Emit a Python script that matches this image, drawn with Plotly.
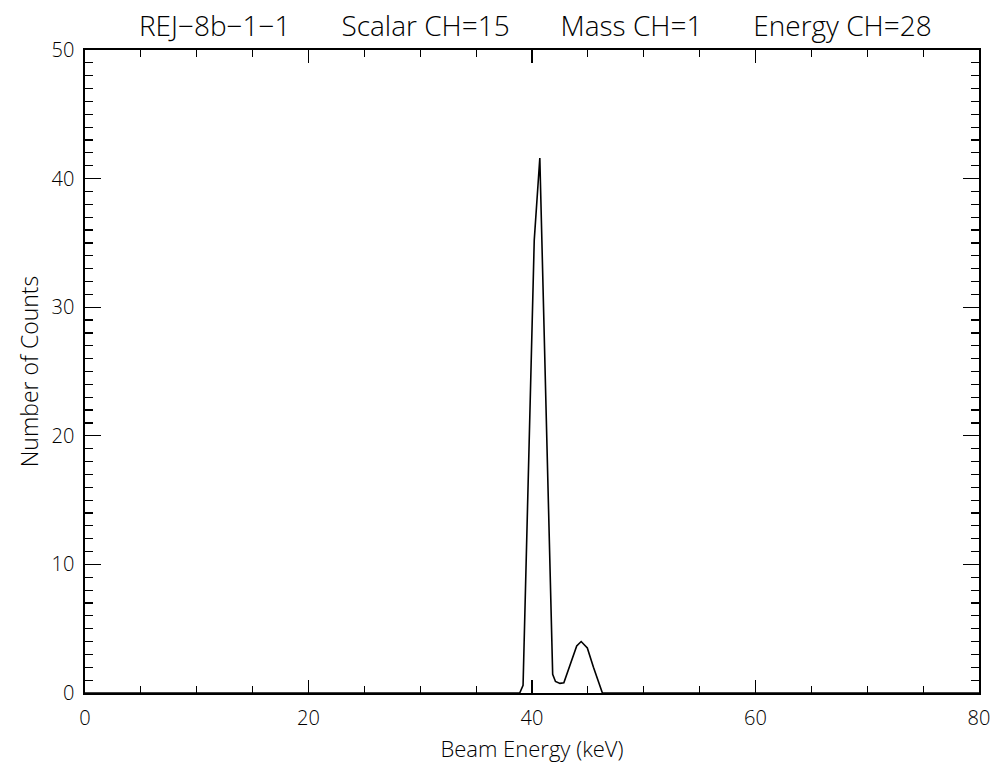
import plotly.graph_objects as go

# Data
energy_kev = [0, 38.9, 39.2, 40.2, 40.7, 41.85, 42.1, 42.5, 42.85, 43.5, 44.0, 44.4, 44.95, 45.5, 45.95, 46.3, 80]
counts = [0, 0, 0.6, 35.2, 41.6, 1.45, 0.9, 0.75, 0.8, 2.5, 3.65, 4.0, 3.5, 2.0, 0.8, 0, 0]

x_ticks = [0, 20, 40, 60, 80]
y_ticks = [0, 10, 20, 30, 40, 50]

GAP = "\u00a0" * 7
title_text = "REJ\u22128b\u22121\u22121" + GAP + "Scalar CH=15" + GAP + "Mass CH=1" + GAP + "Energy CH=28"

FONT = "Open Sans"
W = 300

fig = go.Figure()
fig.add_trace(go.Scatter(
    x=energy_kev, y=counts, mode="lines",
    line=dict(color="black", width=1.6),
    showlegend=False, hoverinfo="skip",
))

axis_common = dict(
    showgrid=False, zeroline=False, automargin=False,
    showline=True, linecolor="black", linewidth=1.6,
    mirror="allticks", ticks="inside", tickcolor="black", tickwidth=1.3,
    tickfont=dict(family=FONT, size=20, color="black", weight=W),
    ticklabeloverflow="allow",
)

fig.update_xaxes(
    range=[0, 80], tickvals=x_ticks, ticklen=13, ticklabelstandoff=6,
    minor=dict(dtick=5, ticks="inside", ticklen=7, tickcolor="black", tickwidth=1.2),
    title=dict(text="Beam Energy (keV)", font=dict(family=FONT, size=22, color="black", weight=W), standoff=16),
    **axis_common,
)
fig.update_yaxes(
    range=[0, 50], tickvals=y_ticks, ticklen=16, ticklabelstandoff=5,
    minor=dict(dtick=1, ticks="inside", ticklen=8, tickcolor="black", tickwidth=1.2),
    title=dict(text="Number of Counts", font=dict(family=FONT, size=23, color="black", weight=W), standoff=6),
    **axis_common,
)

fig.update_layout(
    width=995, height=763,
    margin=dict(l=85, r=16, t=50, b=70, autoexpand=False),
    paper_bgcolor="white", plot_bgcolor="white",
    hovermode=False,
    title=dict(text=title_text, x=0.538, xanchor="center", y=0.966, yanchor="middle",
               yref="container",
               font=dict(family=FONT, size=28, color="black", weight=W)),
)

# remove the default page-body margin so the figure fills the 995x763 window exactly
fig.write_html("out.html", config={"displayModeBar": False, "staticPlot": True},
               post_script="document.body.style.margin='0px';")
